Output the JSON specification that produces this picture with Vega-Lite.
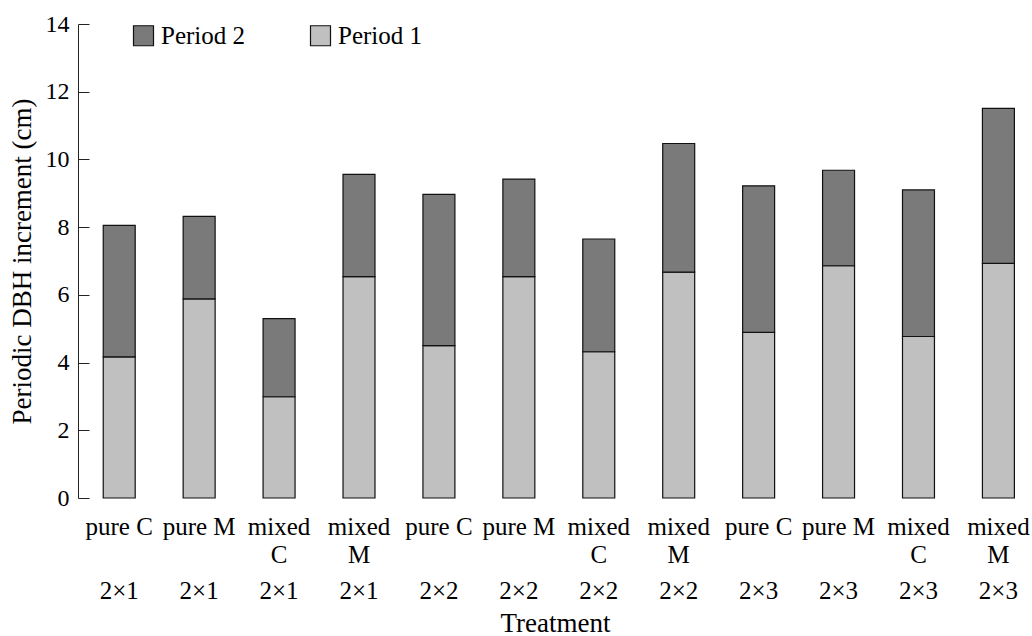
{
  "$schema": "https://vega.github.io/schema/vega-lite/v6.json",
  "autosize": "none",
  "padding": {"left": 78, "top": 24, "right": 0, "bottom": 138},
  "width": 954,
  "height": 474,
  "background": "white",
  "config": {
    "view": {"stroke": null},
    "font": "Liberation Serif"
  },
  "data": {
    "values": [
      {"treatment": "pure C|2×1", "period": "Period 1", "value": 4.17},
      {"treatment": "pure C|2×1", "period": "Period 2", "value": 3.88},
      {"treatment": "pure M|2×1", "period": "Period 1", "value": 5.88},
      {"treatment": "pure M|2×1", "period": "Period 2", "value": 2.44},
      {"treatment": "mixed|C|2×1", "period": "Period 1", "value": 2.99},
      {"treatment": "mixed|C|2×1", "period": "Period 2", "value": 2.31},
      {"treatment": "mixed|M|2×1", "period": "Period 1", "value": 6.54},
      {"treatment": "mixed|M|2×1", "period": "Period 2", "value": 3.02},
      {"treatment": "pure C|2×2", "period": "Period 1", "value": 4.50},
      {"treatment": "pure C|2×2", "period": "Period 2", "value": 4.47},
      {"treatment": "pure M|2×2", "period": "Period 1", "value": 6.54},
      {"treatment": "pure M|2×2", "period": "Period 2", "value": 2.88},
      {"treatment": "mixed|C|2×2", "period": "Period 1", "value": 4.32},
      {"treatment": "mixed|C|2×2", "period": "Period 2", "value": 3.33},
      {"treatment": "mixed|M|2×2", "period": "Period 1", "value": 6.67},
      {"treatment": "mixed|M|2×2", "period": "Period 2", "value": 3.80},
      {"treatment": "pure C|2×3", "period": "Period 1", "value": 4.89},
      {"treatment": "pure C|2×3", "period": "Period 2", "value": 4.33},
      {"treatment": "pure M|2×3", "period": "Period 1", "value": 6.86},
      {"treatment": "pure M|2×3", "period": "Period 2", "value": 2.82},
      {"treatment": "mixed|C|2×3", "period": "Period 1", "value": 4.77},
      {"treatment": "mixed|C|2×3", "period": "Period 2", "value": 4.33},
      {"treatment": "mixed|M|2×3", "period": "Period 1", "value": 6.93},
      {"treatment": "mixed|M|2×3", "period": "Period 2", "value": 4.58}
    ]
  },
  "encoding": {
    "y": {
      "field": "value",
      "type": "quantitative",
      "stack": "zero",
      "scale": {"domain": [0, 14], "nice": false},
      "axis": {
        "title": "Periodic DBH increment (cm)",
        "titleFont": "Liberation Serif",
        "titleFontSize": 27,
        "titleFontWeight": "normal",
        "titleColor": "#000000",
        "titlePadding": 9,
        "values": [0, 2, 4, 6, 8, 10, 12, 14],
        "grid": false,
        "domainColor": "#222222",
        "tickColor": "#222222",
        "tickSize": -11,
        "labelFont": "Liberation Serif",
        "labelFontSize": 24,
        "labelColor": "#000000",
        "labelPadding": 20
      }
    },
    "color": {
      "field": "period",
      "type": "nominal",
      "scale": {"domain": ["Period 2", "Period 1"], "range": ["#7a7a7a", "#bfc0bf"]},
      "legend": {
        "title": null,
        "orient": "none",
        "legendX": 53,
        "legendY": -1,
        "direction": "horizontal",
        "padding": 0,
        "symbolType": "square",
        "symbolSize": 400,
        "symbolStrokeColor": "#111111",
        "symbolStrokeWidth": 1.2,
        "symbolOpacity": 1,
        "labelOffset": 5,
        "columnPadding": 62,
        "labelFont": "Liberation Serif",
        "labelFontSize": 25,
        "labelColor": "#000000"
      }
    },
    "order": {"field": "period", "sort": "ascending"}
  },
  "layer": [
    {
      "mark": {"type": "bar", "stroke": "#111111", "strokeWidth": 1.2},
      "encoding": {
        "x": {
          "field": "treatment",
          "type": "nominal",
          "sort": null,
          "scale": {"paddingInner": 0.6, "paddingOuter": 0.268, "align": 0.589, "round": false},
          "axis": {
            "orient": "bottom",
            "title": null,
            "domain": false,
            "ticks": false,
            "tickSize": 0,
            "labelAngle": 0,
            "labelFont": "Liberation Serif",
            "labelFontSize": 25,
            "labelColor": "#000000",
            "labelPadding": 16,
            "labelLineHeight": 28,
            "labelLimit": 200,
            "labelOverlap": false,
            "labelExpr": "length(split(datum.label, '|')) == 3 ? slice(split(datum.label, '|'), 0, 2) : [split(datum.label, '|')[0]]"
          }
        }
      }
    },
    {
      "mark": {"type": "bar", "opacity": 0},
      "encoding": {
        "x": {
          "field": "treatment",
          "type": "nominal",
          "sort": null,
          "axis": {
            "orient": "bottom",
            "title": "Treatment",
            "titleFont": "Liberation Serif",
            "titleFontSize": 27,
            "titleFontWeight": "normal",
            "titleColor": "#000000",
            "titlePadding": 7,
            "domain": false,
            "ticks": false,
            "tickSize": 0,
            "labelAngle": 0,
            "labelFont": "Liberation Serif",
            "labelFontSize": 25,
            "labelColor": "#000000",
            "labelPadding": 80,
            "labelLimit": 200,
            "labelOverlap": false,
            "labelExpr": "peek(split(datum.label, '|'))"
          }
        }
      }
    }
  ],
  "resolve": {"axis": {"x": "independent"}}
}
